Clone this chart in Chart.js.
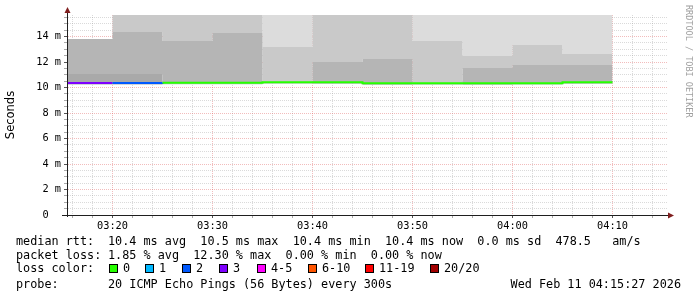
<!DOCTYPE html>
<html><head><meta charset="utf-8">
<script src="https://cdn.jsdelivr.net/npm/chart.js@4.4.1/dist/chart.umd.min.js"></script>
<style>
html,body{margin:0;padding:0;background:#fff;}
#wrap{position:relative;width:697px;height:297px;overflow:hidden;background:#fff;}
canvas{position:absolute;left:0;top:0;}
.t{position:absolute;font-family:'DejaVu Sans Mono',monospace;font-size:11.8px;line-height:14px;white-space:pre;color:#000;}
.box{position:absolute;width:7px;height:7px;border:1px solid #000;}
#rrd{position:absolute;left:684px;top:5px;writing-mode:vertical-rl;font-family:'DejaVu Sans Mono',monospace;font-size:8.5px;line-height:10px;color:#a0a0a0;white-space:pre;}
</style></head><body>
<div id="wrap"><canvas id="c" width="697" height="297"></canvas><div id="rrd">RRDTOOL / TOBI OETIKER</div></div>
<script>
// ---- data (minutes after 03:00, values in ms) ----
const segStart = [15, 20, 25, 30, 35, 40, 45, 50, 55, 60, 65];
const segEnd = 70;
const medianRtt = [10.35, 10.35, 10.38, 10.38, 10.41, 10.41, 10.33, 10.33, 10.33, 10.34, 10.42];
const lossPings = [3, 2, 0, 0, 0, 0, 0, 0, 0, 0, 0];
const smokeMin      = [10.24, 10.24, 10.26, 10.26, 10.30, 10.30, 10.22, 10.22, 10.22, 10.24, 10.30];
const smokeDarkTop  = [11.06, 11.06, 10.26, 10.26, 10.30, 10.30, 10.22, 10.22, 10.22, 10.24, 10.30];
const smokeMidTop   = [13.80, 14.35, 13.65, 14.27, 10.30, 12.00, 12.24, 10.22, 11.53, 11.76, 11.76];
const smokeLightTop = [13.80, 16.00, 16.00, 16.00, 13.18, 16.00, 16.00, 13.65, 12.47, 13.33, 12.63];
const smokePaleTop  = [13.80, 16.00, 16.00, 16.00, 16.00, 16.00, 16.00, 16.00, 16.00, 16.00, 16.00];

const xMajorMinutes = [20, 30, 40, 50, 60, 70];
const xTickLabels = ['03:20', '03:30', '03:40', '03:50', '04:00', '04:10'];
const yMajorValues = [0, 2, 4, 6, 8, 10, 12, 14];
const yTickLabels = ['0  ', '2 m', '4 m', '6 m', '8 m', '10 m', '12 m', '14 m'];

const lossLegendLabels = ['0', '1', '2', '3', '4-5', '6-10', '11-19', '20/20'];
const lossColors = ['#26ff00', '#00b8ff', '#0059ff', '#7e00ff', '#ff00ff', '#ff5500', '#ff0000', '#a10000'];

const statRtt = ['10.4 ms avg', '10.5 ms max', '10.4 ms min', '10.4 ms now', '0.0 ms sd', '478.5   am/s'];
const statLoss = ['1.85 % avg', '12.30 % max', '0.00 % min', '0.00 % now'];
const probeText = '20 ICMP Echo Pings (56 Bytes) every 300s';
const dateText = 'Wed Feb 11 04:15:27 2026';

// ---- helpers ----
const pts = arr => segStart.map((x, i) => ({x: x, y: arr[i]})).concat([{x: segEnd, y: arr[arr.length - 1]}]);
const lossBucket = n => n <= 3 ? n : n <= 5 ? 4 : n <= 10 ? 5 : n <= 19 ? 6 : 7;
const band = (arr, color) => ({data: pts(arr), stepped: 'before', borderWidth: 0, pointRadius: 0,
  fill: '-1', backgroundColor: color, borderColor: 'rgba(0,0,0,0)'});

const xTicks = []; for (let m = 16; m <= 74; m += 2) xTicks.push(m);
const yTicks = []; for (let v = 0; v <= 15.5; v += 0.5) yTicks.push(v);

const MINOR = 'rgba(140,140,140,0.32)';
const MAJOR = 'rgba(222,79,79,0.38)';

const arrows = {
  id: 'arrows',
  afterDraw(chart) {
    const {ctx, chartArea: a} = chart;
    ctx.save();
    ctx.strokeStyle = '#1f1f1f'; ctx.lineWidth = 1;
    ctx.beginPath();
    ctx.moveTo(a.left - 5, a.bottom + 0.5); ctx.lineTo(a.right + 1, a.bottom + 0.5);
    ctx.moveTo(a.left + 0.5, a.bottom + 2); ctx.lineTo(a.left + 0.5, a.top - 3);
    ctx.stroke();
    ctx.fillStyle = '#801f1f';
    ctx.beginPath();
    ctx.moveTo(a.left + 0.5, a.top - 8); ctx.lineTo(a.left - 2.5, a.top - 2); ctx.lineTo(a.left + 3.5, a.top - 2);
    ctx.closePath(); ctx.fill();
    ctx.beginPath();
    ctx.moveTo(a.right + 7, a.bottom + 0.5); ctx.lineTo(a.right + 1, a.bottom - 2.5); ctx.lineTo(a.right + 1, a.bottom + 3.5);
    ctx.closePath(); ctx.fill();
    ctx.restore();
  }
};

new Chart(document.getElementById('c'), {
  type: 'line',
  data: {
    datasets: [
      {data: pts(medianRtt), stepped: 'before', borderWidth: 2, pointRadius: 0, fill: false,
       borderColor: lossColors[0],
       segment: {borderColor: c => lossColors[lossBucket(lossPings[Math.min(c.p0DataIndex, lossPings.length - 1)])]}},
      {data: pts(smokeMin), stepped: 'before', borderWidth: 0, pointRadius: 0, fill: false, borderColor: 'rgba(0,0,0,0)'},
      band(smokeDarkTop, '#a9a9a9'),
      band(smokeMidTop, '#b5b5b5'),
      band(smokeLightTop, '#c9c9c9'),
      band(smokePaleTop, '#dcdcdc')
    ]
  },
  options: {
    responsive: false, animation: false, devicePixelRatio: 1,
    layout: {padding: {left: 0, right: 30, top: 15, bottom: 62}},
    plugins: {legend: {display: false}, tooltip: {enabled: false}},
    elements: {point: {radius: 0}},
    scales: {
      x: {
        type: 'linear', min: 15.45, max: 75.45, z: 1,
        afterBuildTicks: s => { s.ticks = xTicks.map(v => ({value: v})); },
        afterFit: s => { s.height = 20; },
        ticks: {autoSkip: false, maxRotation: 0, padding: 2, color: '#000',
          font: {family: 'DejaVu Sans Mono', size: 10.3},
          callback: v => { const i = xMajorMinutes.indexOf(v); return i >= 0 ? xTickLabels[i] : ''; }},
        grid: {lineWidth: 1, tickLength: 3,
          color: c => (c.tick && xMajorMinutes.includes(c.tick.value)) ? MAJOR : MINOR,
          tickColor: c => (c.tick && xMajorMinutes.includes(c.tick.value)) ? '#555' : '#aaa'},
        border: {color: '#1f1f1f', dash: [1, 1]}
      },
      y: {
        min: 0, max: 15.69, z: 1,
        afterBuildTicks: s => { s.ticks = yTicks.map(v => ({value: v})); },
        afterFit: s => { s.width = 67; },
        ticks: {autoSkip: false, padding: 3, color: '#000',
          font: {family: 'DejaVu Sans Mono', size: 10.3},
          callback: v => { const i = yMajorValues.indexOf(v); return i >= 0 ? yTickLabels[i] : ''; }},
        title: {display: true, text: 'Seconds', color: '#000', font: {family: 'DejaVu Sans', size: 11.5}, padding: {top: 4, bottom: 0}},
        grid: {lineWidth: 1, tickLength: 3,
          color: c => (c.tick && yMajorValues.includes(c.tick.value)) ? MAJOR : MINOR,
          tickColor: c => (c.tick && yMajorValues.includes(c.tick.value)) ? '#555' : '#aaa'},
        border: {color: '#1f1f1f', dash: [1, 1]}
      }
    }
  },
  plugins: [arrows]
});

// ---- legend text (real text) ----
const wrap = document.getElementById('wrap');
function txt(s, x, yc, right) {
  const d = document.createElement('div');
  d.className = 't'; d.textContent = s;
  d.style.top = (yc - 7) + 'px';
  if (right) d.style.right = (697 - x) + 'px'; else d.style.left = x + 'px';
  wrap.appendChild(d);
}
txt('median rtt:', 16, 241);
txt(statRtt.join('  '), 108, 241);
txt('packet loss:', 16, 255);
txt(statLoss.join('  '), 108, 255);
txt('loss color:', 16, 268);
const boxX = [109, 145, 182, 219, 257, 308, 365, 430];
lossLegendLabels.forEach((l, i) => {
  const b = document.createElement('div');
  b.className = 'box'; b.style.left = boxX[i] + 'px'; b.style.top = (268 - 4) + 'px';
  b.style.background = lossColors[i];
  wrap.appendChild(b);
  txt(l, boxX[i] + 14, 268);
});
txt('probe:', 16, 284);
txt(probeText, 108, 284);
txt(dateText, 681, 284, true);
</script>
</body></html>
